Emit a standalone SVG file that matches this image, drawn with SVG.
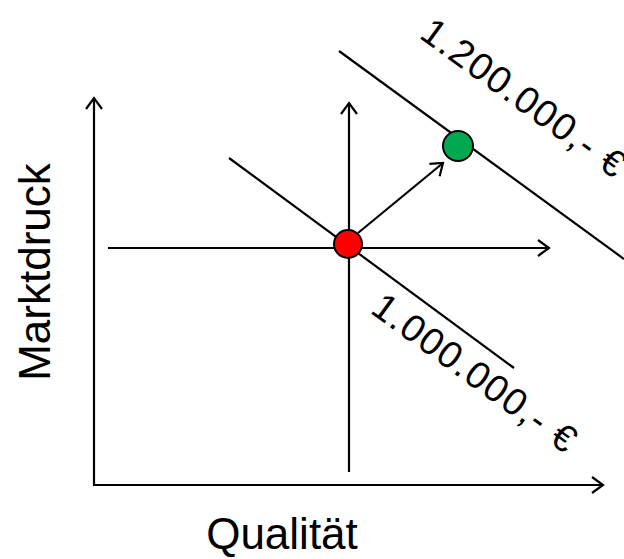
<svg xmlns="http://www.w3.org/2000/svg" width="624" height="559" viewBox="0 0 624 559">
<style>
.ln{stroke:#000;stroke-width:2.2;fill:none}
.ah{stroke:#000;stroke-width:2.2;fill:none}
.t{font-family:"Liberation Sans",Arial,sans-serif;fill:#000}
.dot{stroke:#000;stroke-width:2}
</style>
<defs>
<marker id="arr" viewBox="-12 -9 14 18" markerWidth="14" markerHeight="18" refX="0" refY="0" orient="auto" markerUnits="userSpaceOnUse">
<path d="M-11,-8 L0,0 L-11,8" class="ah"/>
</marker>
</defs>
<rect width="624" height="559" fill="#fff"/>
<g id="connectors">
<line id="axis-y" class="ln" x1="94" y1="486" x2="94" y2="98" marker-end="url(#arr)"/>
<line id="axis-x" class="ln" x1="93" y1="485" x2="603" y2="485" marker-end="url(#arr)"/>
<line id="inner-y" class="ln" x1="349" y1="472" x2="349" y2="103" marker-end="url(#arr)"/>
<line id="inner-x" class="ln" x1="108" y1="248" x2="549" y2="248" marker-end="url(#arr)"/>
<line id="iso-1000" class="ln" x1="229" y1="158" x2="514" y2="368"/>
<line id="iso-1200" class="ln" x1="339" y1="51" x2="624" y2="259"/>
<line id="move" class="ln" x1="358" y1="233" x2="443" y2="163" marker-end="url(#arr)"/>
</g>
<g id="red-point"><circle class="dot" cx="348" cy="244" r="14" fill="#ff0000"/></g>
<g id="green-point"><circle class="dot" cx="458" cy="146" r="15" fill="#00a84f"/></g>
<g id="label-1000"><text class="t" font-size="38" letter-spacing="1.5" transform="translate(369,312) rotate(36)">1.000.000,- €</text></g>
<g id="label-1200"><text class="t" font-size="38" letter-spacing="1.5" transform="translate(418,37) rotate(36)">1.200.000,- €</text></g>
<g id="label-y"><text class="t" font-size="44" text-anchor="middle" transform="translate(50,272) rotate(-90)">Marktdruck</text></g>
<g id="label-x"><text class="t" font-size="44" text-anchor="middle" x="282" y="549">Qualität</text></g>
</svg>
